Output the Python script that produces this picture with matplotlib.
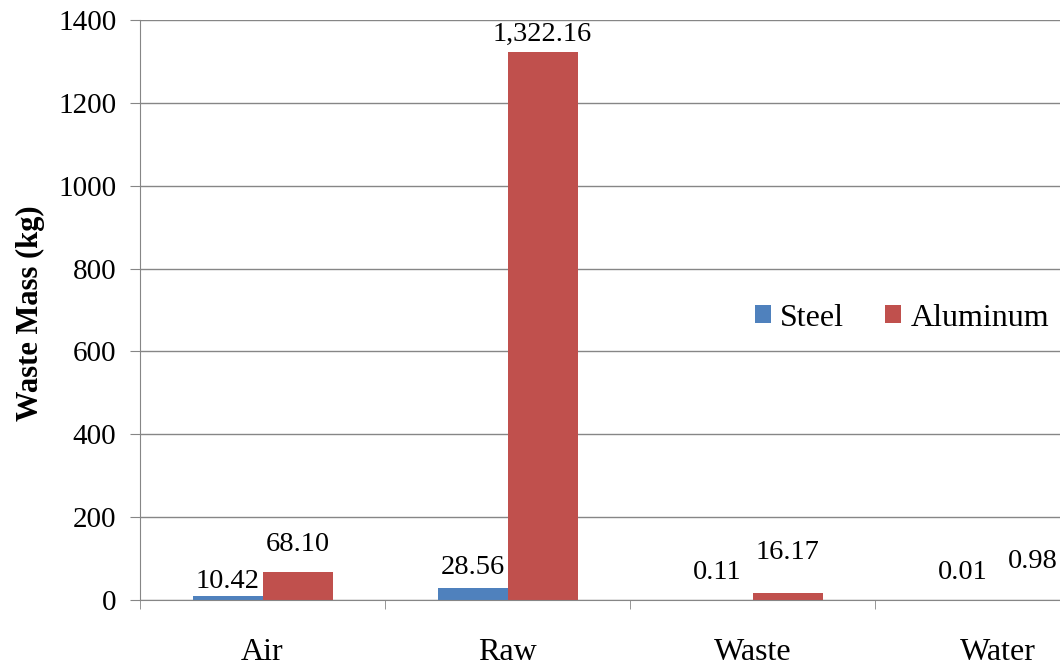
import numpy as np
import matplotlib
matplotlib.use("Agg")
import matplotlib.pyplot as plt

categories = ["Air", "Raw", "Waste", "Water"]
steel = [10.42, 28.56, 0.11, 0.01]
aluminum = [68.10, 1322.16, 16.17, 0.98]

# label offsets above bar top (pixels), label placement in the source was hand-tuned
steel_off = [14, 21, 27, 27]
alu_off = [27, 18, 41, 38]

plt.rcParams['font.family'] = ['Liberation Serif', 'DejaVu Serif']

fig = plt.figure(figsize=(10.6, 6.62), dpi=100)
ax = fig.add_axes([140 / 1060, 62 / 662, 980 / 1060, 580 / 662])

x = np.arange(len(categories))
w = 70 / 245
ax.bar(x - w / 2, steel, w, color='#4F81BD', label='Steel', zorder=3)
ax.bar(x + w / 2, aluminum, w, color='#C0504D', label='Aluminum', zorder=3)

for xs, vals, offs in [(x - w / 2, steel, steel_off), (x + w / 2, aluminum, alu_off)]:
    for xi, v, o in zip(xs, vals, offs):
        ax.annotate(f"{v:,.2f}", (xi, v), xytext=(0, o * 0.72), textcoords='offset points',
                    ha='center', va='center', fontsize=20.5)

ax.set_xlim(-0.5, 3.5)
ax.set_ylim(0, 1400)
ax.set_yticks(np.arange(0, 1401, 200))
ax.set_xticks(x)
ax.set_xticklabels(categories)
ax.set_xticks(np.arange(-0.5, 3.6, 1), minor=True)
ax.tick_params(axis='x', which='major', length=0, pad=27, labelsize=23)
ax.tick_params(axis='x', which='minor', length=6.5, color='#868686', direction='out')
ax.tick_params(axis='y', length=7, color='#868686', pad=10, labelsize=21)

ax.yaxis.grid(True, color='#868686', linewidth=1)
ax.set_axisbelow(True)
for s in ['top', 'right']:
    ax.spines[s].set_visible(False)
for s in ['left', 'bottom']:
    ax.spines[s].set_color('#868686')
ax.spines['bottom'].set_zorder(4)

ax.set_ylabel('Waste Mass (kg)', fontsize=22, fontweight='bold')
ax.yaxis.set_label_coords(-0.097, 0.495)

fig.legend(loc='center', bbox_to_anchor=(902 / 1060, 1 - 318 / 662), ncol=2, frameon=False,
           fontsize=23, handlelength=0.5, handleheight=0.5, handletextpad=0.28, columnspacing=1.3)

fig.savefig('out.png', dpi=100)
